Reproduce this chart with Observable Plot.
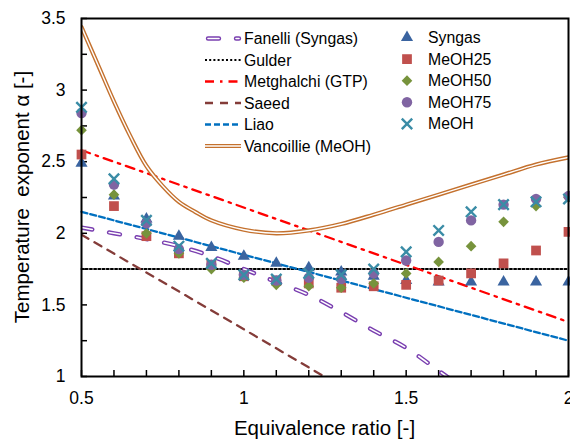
<!DOCTYPE html>
<html><head><meta charset="utf-8">
<script src="https://cdn.jsdelivr.net/npm/d3@7"></script>
<script src="https://cdn.jsdelivr.net/npm/@observablehq/plot@0.6"></script>
<style>
html,body{margin:0;padding:0;background:#fff;}
svg text{white-space:pre;}
</style></head><body><div id="chart"></div>
<script>
// ---- data ----
const phi = [0.5,0.6,0.7,0.8,0.9,1.0,1.1,1.2,1.3,1.4,1.5,1.6,1.7,1.8,1.9,2.0];
const syngas = [2.49,2.26,2.10,1.98,1.90,1.84,1.79,1.76,1.73,1.70,1.67,1.66,1.66,1.66,1.66,1.66];
const meoh25 = [2.55,2.19,1.98,1.86,1.78,1.70,1.67,1.65,1.62,1.63,1.64,1.67,1.72,1.79,1.88,2.01];
const meoh50 = [2.72,2.27,2.00,1.86,1.75,1.69,1.64,1.63,1.62,1.65,1.72,1.80,1.91,2.08,2.19,2.25];
const meoh75 = [2.84,2.34,2.07,1.89,1.78,1.71,1.67,1.69,1.68,1.72,1.81,1.94,2.09,2.20,2.24,2.26];
const meoh100 = [2.88,2.38,2.09,1.91,1.79,1.71,1.68,1.72,1.71,1.75,1.87,2.02,2.15,2.20,2.22,2.24];

const fanelliPhi = [0.5,0.6,0.7,0.8,0.9,1.0,1.1,1.2,1.3,1.4,1.5,1.6,1.7];
const fanelliAlpha = [2.04,2.00,1.96,1.91,1.84,1.75,1.66,1.57,1.45,1.32,1.20,1.04,0.88];
const gulderPhi = [0.5,2.0];
const gulderAlpha = [1.75,1.75];
const metghalchiPhi = [0.5,2.0];
const metghalchiAlpha = [2.58,1.38];
const saeedPhi = [0.5,1.0,1.3];
const saeedAlpha = [1.99,1.33,0.93];
const liaoPhi = [0.5,2.0];
const liaoAlpha = [2.15,1.25];
const vancPhi = [0.5,0.55,0.6,0.65,0.7,0.75,0.8,0.85,0.9,1.0,1.1,1.2,1.3,1.4,1.5,1.6,1.7,1.8,1.9,2.0];
const vancAlpha = [3.44,3.18,2.92,2.68,2.47,2.33,2.22,2.15,2.09,2.025,2.0,2.02,2.065,2.13,2.20,2.27,2.34,2.41,2.48,2.53];

const xMajor = [0.5,1,1.5,2];
const xMinor = [0.5,0.6,0.7,0.8,0.9,1.0,1.1,1.2,1.3,1.4,1.5,1.6,1.7,1.8,1.9,2.0];
const yMajor = [1,1.5,2,2.5,3,3.5];
const yMinor = [1,1.25,1.5,1.75,2,2.25,2.5,2.75,3,3.25,3.5];

const lineNames = ["Fanelli (Syngas)","Gulder","Metghalchi (GTP)","Saeed","Liao","Vancoillie (MeOH)"];
const markerNames = ["Syngas","MeOH25","MeOH50","MeOH75","MeOH"];
const xTitle = "Equivalence ratio [-]";
const yTitle = "Temperature  exponent α [-]";

// ---- styles ----
const FONT = "'Liberation Sans', Arial, sans-serif";
const W = 570, H = 439, mT = 18, mB = 63, mL = 81, mR = 2;
const plotH = H - mT - mB, plotW = W - mL - mR;
const C = {
  fanelli: "#7a3fb0", gulder: "#000000", metghalchi: "#ff0000", saeed: "#843c39",
  liao: "#0070c0", vanc: "#c4712e",
  syngas: "#3a64a0", meoh25: "#c0504d", meoh50: "#77933c", meoh75: "#8064a2", meoh: "#3a8ca6"
};
const zip = (xs, ys) => xs.map((x, i) => ({x, y: ys[i]}));

const markerSeries = [
  {name: "Syngas", vals: syngas, symbol: "triangle", r: 4.5, fill: C.syngas},
  {name: "MeOH25", vals: meoh25, symbol: "square", r: 5.5, fill: C.meoh25},
  {name: "MeOH50", vals: meoh50, symbol: "diamond2", r: 4.8, fill: C.meoh50},
  {name: "MeOH75", vals: meoh75, symbol: "circle", r: 5.2, fill: C.meoh75},
  {name: "MeOH", vals: meoh100, symbol: "times", r: 4.8, stroke: C.meoh}
];

const marks = [
  Plot.tickX(xMinor, {x: d => d, stroke: "#000", strokeWidth: 1.5, insetTop: plotH - 6}),
  Plot.tickY(yMinor, {y: d => d, stroke: "#000", strokeWidth: 1.5, insetRight: plotW - 6}),
  Plot.axisX({ticks: xMajor, tickSize: 0, tickPadding: 15, tickFormat: d => String(d), fontSize: 17.5, fontFamily: FONT, fill: "#000", label: null}),
  Plot.axisY({ticks: yMajor, tickSize: 0, tickPadding: 16, tickFormat: d => String(d), fontSize: 17.5, fontFamily: FONT, fill: "#000", label: null}),
  Plot.line(zip(gulderPhi, gulderAlpha), {x: "x", y: "y", stroke: C.gulder, strokeWidth: 2, strokeDasharray: "2,2.2"}),
  Plot.line(zip(liaoPhi, liaoAlpha), {x: "x", y: "y", stroke: C.liao, strokeWidth: 2.3, strokeDasharray: "6,3"}),
  Plot.line(zip(saeedPhi, saeedAlpha), {x: "x", y: "y", stroke: C.saeed, strokeWidth: 2.3, strokeDasharray: "8,7", clip: true}),
  Plot.line(zip(metghalchiPhi, metghalchiAlpha), {x: "x", y: "y", stroke: C.metghalchi, strokeWidth: 2.3, strokeDasharray: "9,6,2.5,6"}),
  Plot.line(zip(vancPhi, vancAlpha), {x: "x", y: "y", stroke: C.vanc, strokeWidth: 4.2, curve: "catmull-rom", clip: true}),
  Plot.line(zip(vancPhi, vancAlpha), {x: "x", y: "y", stroke: "#fff", strokeWidth: 1.4, curve: "catmull-rom", clip: true}),
  Plot.line(zip(fanelliPhi, fanelliAlpha), {x: "x", y: "y", stroke: C.fanelli, strokeWidth: 4.4, strokeDasharray: "11,17", strokeLinecap: "round", curve: "catmull-rom", clip: true}),
  Plot.line(zip(fanelliPhi, fanelliAlpha), {x: "x", y: "y", stroke: "#fff", strokeWidth: 1.6, strokeDasharray: "11,17", strokeLinecap: "round", curve: "catmull-rom", clip: true}),
  ...markerSeries.map(s => Plot.dot(phi.map((p, i) => ({x: p, y: s.vals[i]})), {
    x: "x", y: "y", symbol: s.symbol, r: s.r,
    fill: s.fill || "none", stroke: s.stroke || "none", strokeWidth: s.stroke ? 2.4 : 0
  })),
  Plot.frame({stroke: "#000", strokeWidth: 2})
];

const chart = Plot.plot({
  width: W, height: H, marginTop: mT, marginBottom: mB, marginLeft: mL, marginRight: mR,
  x: {domain: [0.5, 2], label: null},
  y: {domain: [1, 3.5], label: null},
  style: {fontFamily: FONT, background: "#fff", overflow: "visible"},
  marks
});
document.getElementById("chart").appendChild(chart);

const svg = d3.select(chart);
// axis titles
svg.append("text").attr("x", mL + plotW / 2).attr("y", 428).attr("dy", "0.35em")
  .attr("text-anchor", "middle").attr("font-family", FONT).attr("font-size", 20.5).attr("fill", "#000").text(xTitle);
svg.append("text").attr("transform", `translate(22,${mT + plotH / 2}) rotate(-90)`).attr("dy", "0.35em")
  .attr("text-anchor", "middle").attr("font-family", FONT).attr("font-size", 20.5).attr("fill", "#000").text(yTitle);

// ---- legend ----
const lg = svg.append("g").attr("font-family", FONT).attr("font-size", 15.8).attr("fill", "#000").attr("text-anchor", "start");
const lineStyles = [
  [{stroke: C.fanelli, w: 4.4, dash: "11,17", cap: "round"}, {stroke: "#fff", w: 1.6, dash: "11,17", cap: "round"}],
  [{stroke: C.gulder, w: 2, dash: "2,2.2"}],
  [{stroke: C.metghalchi, w: 2.3, dash: "9,6,2.5,6"}],
  [{stroke: C.saeed, w: 2.3, dash: "8,7"}],
  [{stroke: C.liao, w: 2.3, dash: "6,3"}],
  [{stroke: C.vanc, w: 4.2}, {stroke: "#fff", w: 1.4}]
];
lineNames.forEach((name, i) => {
  const y = 38.5 + i * 21.5;
  lineStyles[i].forEach(st => {
    lg.append("line").attr("x1", i === 0 ? 208 : 205).attr("x2", i === 0 ? 239 : 241).attr("y1", y).attr("y2", y)
      .attr("stroke", st.stroke).attr("stroke-width", st.w)
      .attr("stroke-dasharray", st.dash || null).attr("stroke-linecap", st.cap || "butt");
  });
  lg.append("text").attr("x", 244).attr("y", y).attr("dy", "0.35em").text(name);
});
markerNames.forEach((name, i) => {
  const y = 37.5 + i * 21.6;
  const s = markerSeries[i];
  const sym = {triangle: d3.symbolTriangle, square: d3.symbolSquare, diamond2: d3.symbolDiamond2, circle: d3.symbolCircle, times: d3.symbolTimes}[s.symbol];
  lg.append("path").attr("transform", `translate(407,${y})`)
    .attr("d", d3.symbol(sym, s.r * s.r * Math.PI)())
    .attr("fill", s.fill || "none").attr("stroke", s.stroke || "none").attr("stroke-width", s.stroke ? 2.4 : 0);
  lg.append("text").attr("x", 428).attr("y", y).attr("dy", "0.35em").text(name);
});
</script></body></html>
